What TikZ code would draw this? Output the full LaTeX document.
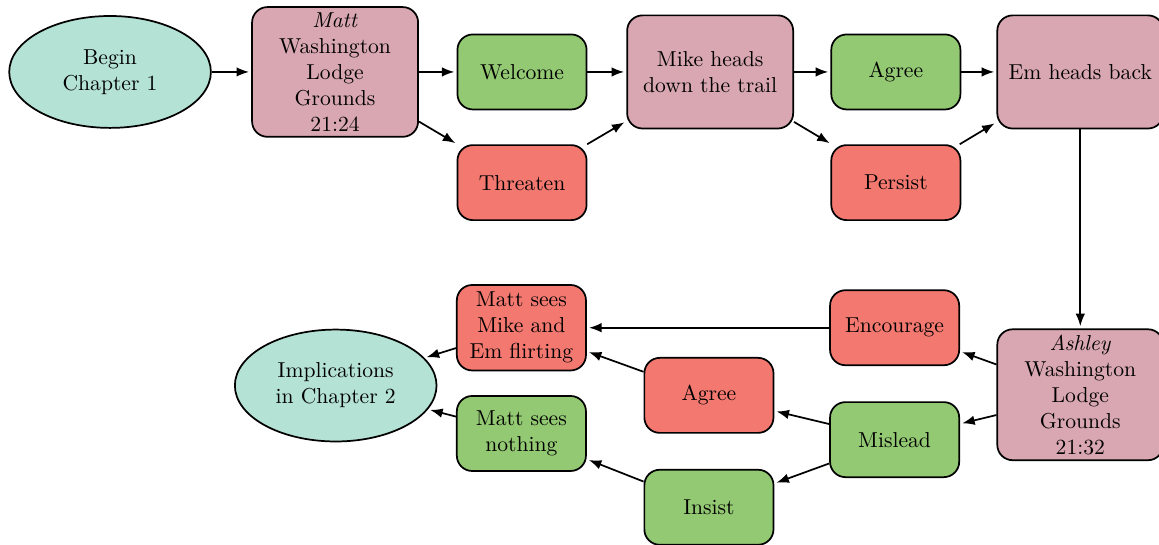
\documentclass[tikz,border=0pt]{standalone}
\usetikzlibrary{positioning, arrows.meta, shapes}
\definecolor{chaptercol}{HTML}{B4E2D4}
\definecolor{scenecol}{HTML}{D9A7B1}
\definecolor{goodcol}{HTML}{93C973}
\definecolor{badcol}{HTML}{F37970}
\tikzset{%
  node distance=3cm, % distance between the centres of the nodes
  chapter/.style={ellipse, draw, thick, fill=chaptercol, minimum width=3.28cm, minimum height=1.82cm, align=center},
  scene/.style={rectangle, rounded corners=2.5mm, draw, thick, fill=scenecol, minimum width=2.7cm, minimum height=1.84cm, align=center, inner sep=2.6pt},
  goodchoice/.style={rectangle, rounded corners=2.5mm, draw, thick, fill=goodcol, minimum width=2.1cm, minimum height=1.22cm, align=center},
  badchoice/.style={goodchoice, fill=badcol}, % same box, other colour
  every edge/.style={%
    draw, -{Latex[length=5.8pt, width=4.4pt]}, thick, shorten >=1pt
  }
}

\begin{document}
\begin{tikzpicture}
    \useasboundingbox (-1.79,1.17) rectangle (17.06,-7.68);

    % chapter 1
    \node[chapter] (begin) {Begin\\Chapter 1};
    \node[scene, right of=begin, node distance=3.66cm] (matt) {\textit{Matt}\\Washington\\Lodge\\Grounds\\21:24};
    \node[goodchoice, right of=matt, node distance=3.04cm] (welcome) {Welcome};
    \node[badchoice, below of=welcome, node distance=1.8cm] (threaten) {Threaten};
    \node[scene, right of=welcome, node distance=3.06cm] (mike) {Mike heads\\down the trail};
    \node[goodchoice, right of=mike, node distance=3.02cm] (agree) {Agree};
    \node[badchoice, below of=agree, node distance=1.8cm] (persist) {Persist};
    \node[scene, right of=agree] (emback) {Em heads back};

    % second scene, going back to the left
    \node[scene, below of=emback, node distance=5.25cm] (ashley) {\textit{Ashley}\\Washington\\Lodge\\Grounds\\21:32};
    \node[badchoice, left of=ashley, node distance=3.02cm, yshift=1.09cm] (encourage) {Encourage};
    \node[goodchoice, left of=ashley, node distance=3.02cm, yshift=-0.73cm] (mislead) {Mislead};
    \node[badchoice, left of=mislead, node distance=3.02cm, yshift=0.72cm] (agreeb) {Agree};
    \node[goodchoice, below of=agreeb, node distance=1.82cm] (insist) {Insist};
    \node[badchoice, left of=encourage, node distance=6.07cm] (flirt) {Matt sees\\Mike and\\Em flirting};
    \node[goodchoice, below of=flirt, node distance=1.72cm] (nothing) {Matt sees\\nothing};
    \node[chapter, left of=flirt, node distance=3.02cm, yshift=-0.94cm] (implic) {Implications\\in Chapter 2};

    \draw (begin) edge (matt);
    \draw (matt) edge (welcome);
    \draw (matt) edge (threaten);
    \draw (welcome) edge (mike);
    \draw (threaten) edge (mike);
    \draw (mike) edge (agree);
    \draw (mike) edge (persist);
    \draw (agree) edge (emback);
    \draw (persist) edge (emback);
    \draw (emback) edge (ashley);
    \draw (ashley) edge (encourage);
    \draw (ashley) edge (mislead);
    \draw (encourage) edge (flirt);
    \draw (mislead) edge (agreeb);
    \draw (mislead) edge (insist);
    \draw (agreeb) edge (flirt);
    \draw (insist) edge (nothing);
    \draw (flirt) edge (implic);
    \draw (nothing) edge (implic);
\end{tikzpicture}
\end{document}
